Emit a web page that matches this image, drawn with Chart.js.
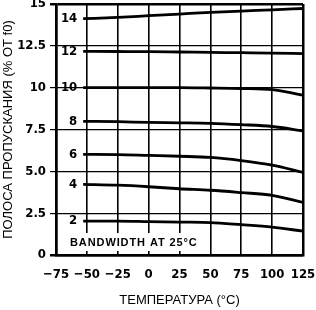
<!DOCTYPE html>
<html>
<head>
<meta charset="utf-8">
<script src="https://cdn.jsdelivr.net/npm/chart.js@4"></script>
<style>
  html, body { margin: 0; padding: 0; background: #fff; }
  #wrap { width: 316px; height: 310px; }
</style>
</head>
<body>
<div id="wrap"><canvas id="grafica" width="316" height="310"></canvas></div>
<script>
// temperatura (°C)
const temps = [-53, -25, 0, 25, 50, 75, 100, 125];

// полоса пропускания, % от f0 — одна кривая на каждую настройку
const bw14 = [14.12, 14.2, 14.3, 14.4, 14.5, 14.58, 14.65, 14.73];
const bw12 = [12.17, 12.16, 12.15, 12.13, 12.11, 12.09, 12.07, 12.03];
const bw10 = [10.0, 10.0, 10.0, 10.0, 9.98, 9.95, 9.88, 9.55];
const bw8 = [7.99, 7.97, 7.92, 7.9, 7.87, 7.79, 7.68, 7.42];
const bw6 = [6.01, 6.0, 5.95, 5.9, 5.83, 5.64, 5.37, 4.94];
const bw4 = [4.22, 4.17, 4.08, 3.96, 3.87, 3.73, 3.57, 3.14];
const bw2 = [2.03, 2.03, 2.0, 1.97, 1.94, 1.81, 1.66, 1.43];

const curveLabels = ["14", "12", "10", "8", "6", "4", "2"];
const xTickLabels = ["\u221275", "\u221250", "\u221225", "0", "25", "50", "75", "100", "125"];
const yTickLabels = ["0", "2.5", "5.0", "7.5", "10", "12.5", "15"];

const tickFont = "'Liberation Sans Narrow', 'DejaVu Sans Condensed', sans-serif";
const titleFont = "'Liberation Sans', Arial, sans-serif";

const curves = [bw14, bw12, bw10, bw8, bw6, bw4, bw2];

const datasets = curves.map((vals, i) => ({
  label: curveLabels[i],
  data: vals.map((v, k) => ({ x: temps[k], y: v })),
  showLine: true,
  borderColor: "#000",
  borderWidth: 2.8,
  pointRadius: 0,
  cubicInterpolationMode: "monotone",
}));

// Etiquetas de curvas y nota
const notas = {
  id: "notas",
  afterDatasetsDraw(chart) {
    const { ctx, chartArea } = chart;
    const xs = chart.scales.x, ys = chart.scales.y;
    ctx.save();
    // caja blanca con texto
    ctx.fillStyle = "#fff";
    ctx.fillRect(chartArea.left + 11, chartArea.bottom - 22, 134, 18);
    ctx.fillStyle = "#000";
    ctx.font = "bold 11px " + titleFont;
    ctx.letterSpacing = "0.9px";
    ctx.textBaseline = "middle";
    ctx.textAlign = "left";
    ctx.fillText("BANDWIDTH AT 25°C", chartArea.left + 14, chartArea.bottom - 12);
    ctx.letterSpacing = "0px";
    // números de las curvas
    ctx.font = "bold 13px " + tickFont;
    ctx.textAlign = "right";
    chart.data.datasets.forEach(ds => {
      const p = ds.data[0];
      ctx.fillText(ds.label, xs.getPixelForValue(p.x) - 6, ys.getPixelForValue(p.y));
    });
    ctx.restore();
  }
};

const isEdge = (c, n) => c.index === 0 || c.index === n - 1;

new Chart(document.getElementById("grafica").getContext("2d"), {
  type: "scatter",
  data: { datasets },
  options: {
    responsive: false,
    animation: false,
    layout: { padding: { top: 4, right: 13, left: 0, bottom: 0 } },
    plugins: { legend: { display: false }, tooltip: { enabled: false } },
    scales: {
      x: {
        type: "linear",
        min: -75,
        max: 125,
        afterBuildTicks: (scale) => { scale.ticks = xTickLabels.map((t, i) => ({ value: -75 + 25 * i })); },
        afterFit: (scale) => {
          scale.height = 55;
          scale.paddingLeft = 0;
          scale.paddingRight = 0;
        },
        ticks: {
          color: "#000",
          padding: 0,
          autoSkip: false,
          maxRotation: 0,
          font: { family: tickFont, size: 13, weight: "bold" },
          callback: (v, i) => xTickLabels[i],
        },
        grid: {
          color: "#000",
          lineWidth: (c) => isEdge(c, xTickLabels.length) ? 2.5 : 1.6,
          drawTicks: true,
          tickLength: 12,
          tickColor: "rgba(0,0,0,0)",
        },
        border: { color: "#000", width: 2.5 },
        title: {
          display: true,
          text: "ТЕМПЕРАТУРА (°C)",
          color: "#000",
          padding: { top: 0, bottom: 2 },
          font: { family: titleFont, size: 13 },
        },
      },
      y: {
        min: 0,
        max: 15,
        afterBuildTicks: (scale) => { scale.ticks = yTickLabels.map((t, i) => ({ value: 2.5 * i })); },
        afterFit: (scale) => {
          scale.width = 56;
          scale.paddingTop = 0;
          scale.paddingBottom = 0;
        },
        ticks: {
          color: "#000",
          padding: 4,
          autoSkip: false,
          font: { family: tickFont, size: 13, weight: "bold" },
          callback: (v, i) => yTickLabels[i],
        },
        grid: {
          color: "#000",
          lineWidth: (c) => isEdge(c, yTickLabels.length) ? 2.5 : 1.2,
          tickLength: 6,
          drawTicks: true,
        },
        border: { color: "#000", width: 2.5 },
        title: {
          display: true,
          text: "ПОЛОСА ПРОПУСКАНИЯ (% ОТ f0)",
          color: "#000",
          padding: { top: 1, bottom: 0 },
          font: { family: titleFont, size: 13 },
        },
      },
    },
  },
  plugins: [notas],
});
</script>
</body>
</html>
